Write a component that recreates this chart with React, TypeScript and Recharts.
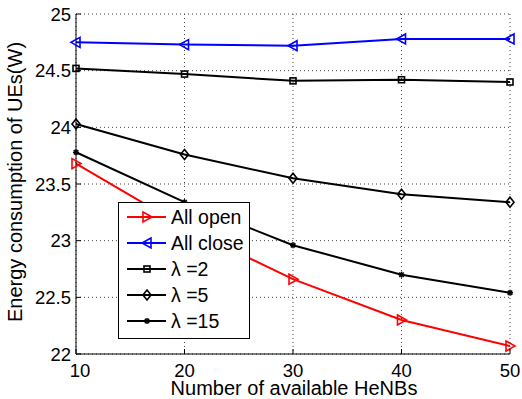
import React from 'react';
import { LineChart, Line, XAxis, YAxis, CartesianGrid, Legend } from 'recharts';

const henbs = [10, 20, 30, 40, 50];
const allOpen = [23.68, 23.12, 22.66, 22.3, 22.07];
const allClose = [24.75, 24.73, 24.72, 24.78, 24.78];
const lambda2 = [24.52, 24.47, 24.41, 24.42, 24.4];
const lambda5 = [24.03, 23.76, 23.55, 23.41, 23.34];
const lambda15 = [23.78, 23.34, 22.96, 22.7, 22.54];
const xTicks = [10, 20, 30, 40, 50];
const yTicks = [22, 22.5, 23, 23.5, 24, 24.5, 25];

const FONT = '"Liberation Sans", Arial, sans-serif';

const series = [
  { key: 'open', name: 'All open', color: '#ff0000', marker: 'right' },
  { key: 'close', name: 'All close', color: '#0000ff', marker: 'left' },
  { key: 'l2', name: 'λ =2', color: '#000000', marker: 'square' },
  { key: 'l5', name: 'λ =5', color: '#000000', marker: 'diamond' },
  { key: 'l15', name: 'λ =15', color: '#000000', marker: 'star' },
];

const data = henbs.map((n, i) => ({
  n,
  open: allOpen[i],
  close: allClose[i],
  l2: lambda2[i],
  l5: lambda5[i],
  l15: lambda15[i],
}));

const Marker = ({ cx, cy, shape, color }: { cx: number; cy: number; shape: string; color: string }) => {
  const common = { fill: 'none', stroke: color, strokeWidth: 1.6 };
  switch (shape) {
    case 'right':
      return <polygon points={`${cx - 4},${cy - 5} ${cx + 5},${cy} ${cx - 4},${cy + 5}`} {...common} />;
    case 'left':
      return <polygon points={`${cx + 4},${cy - 5} ${cx - 5},${cy} ${cx + 4},${cy + 5}`} {...common} />;
    case 'square':
      return <rect x={cx - 3} y={cy - 3} width={6} height={6} {...common} />;
    case 'diamond':
      return <polygon points={`${cx},${cy - 5} ${cx + 4},${cy} ${cx},${cy + 5} ${cx - 4},${cy}`} {...common} />;
    default:
      return (
        <g stroke={color} strokeWidth={1.5}>
          <line x1={cx - 3} y1={cy} x2={cx + 3} y2={cy} />
          <line x1={cx} y1={cy - 3} x2={cx} y2={cy + 3} />
          <line x1={cx - 2.2} y1={cy - 2.2} x2={cx + 2.2} y2={cy + 2.2} />
          <line x1={cx - 2.2} y1={cy + 2.2} x2={cx + 2.2} y2={cy - 2.2} />
        </g>
      );
  }
};

const LegendBox = () => (
  <svg width={132} height={137} style={{ display: 'block' }}>
    <rect x={0.5} y={0.5} width={131} height={136} fill="#fff" stroke="#000" />
    {series.map((s, i) => {
      const cy = 15 + i * 26;
      return (
        <g key={s.key}>
          <line x1={9} y1={cy} x2={48} y2={cy} stroke={s.color} strokeWidth={2} />
          <Marker cx={29} cy={cy} shape={s.marker} color={s.color} />
          <text x={53} y={cy} dominantBaseline="central" fontSize={19.5} fontFamily={FONT} fill="#000">
            {s.name}
          </text>
        </g>
      );
    })}
  </svg>
);

const XTick = (props: any) => {
  const { x, payload } = props;
  return (
    <g>
      <line x1={x} y1={354} x2={x} y2={349} stroke="#000" />
      <text x={x + (payload.value === 10 ? 4 : 0)} y={377} textAnchor="middle" fontSize={18.5} fontFamily={FONT} fill="#000">
        {payload.value}
      </text>
    </g>
  );
};

const YTick = (props: any) => {
  const { y, payload } = props;
  return (
    <g>
      <line x1={76} y1={y} x2={81} y2={y} stroke="#000" />
      <text x={71} y={y} textAnchor="end" dominantBaseline="central" fontSize={18.5} fontFamily={FONT} fill="#000">
        {payload.value}
      </text>
    </g>
  );
};

const XTitle = () => (
  <text x={294} y={395} textAnchor="middle" fontSize={20} fontFamily={FONT} fill="#000">
    Number of available HeNBs
  </text>
);

const YTitle = () => (
  <text
    x={15}
    y={182}
    transform="rotate(-90 15 182)"
    textAnchor="middle"
    dominantBaseline="central"
    fontSize={20}
    fontFamily={FONT}
    fill="#000"
  >
    Energy consumption of UEs(W)
  </text>
);

export default function App() {
  return (
    <div style={{ position: 'absolute', left: 0, top: 0, background: '#fff' }}>
      <LineChart width={522} height={399} data={data} margin={{ top: 14, right: 12, left: 0, bottom: 0 }}>
        <CartesianGrid stroke="#444" strokeDasharray="1 3" strokeWidth={1} />
        <XAxis
          dataKey="n"
          type="number"
          domain={[10, 50]}
          ticks={xTicks}
          height={45}
          axisLine={{ stroke: '#000' }}
          tickLine={false}
          tickSize={0}
          tick={<XTick />}
          label={{ content: () => <XTitle /> }}
        />
        <YAxis
          type="number"
          domain={[22, 25]}
          ticks={yTicks}
          width={76}
          axisLine={{ stroke: '#000' }}
          tickLine={false}
          tickSize={0}
          tick={<YTick />}
          label={{ content: () => <YTitle /> }}
        />
        <Legend
          layout="vertical"
          align="center"
          verticalAlign="middle"
          content={() => <LegendBox />}
          wrapperStyle={{ left: 118, top: 202, width: 132, height: 137 }}
        />
        {series.map((s) => (
          <Line
            key={s.key}
            dataKey={s.key}
            name={s.name}
            stroke={s.color}
            strokeWidth={2}
            isAnimationActive={false}
            dot={(p: any) => <Marker key={`${s.key}-${p.index}`} cx={p.cx} cy={p.cy} shape={s.marker} color={s.color} />}
          />
        ))}
      </LineChart>
    </div>
  );
}
